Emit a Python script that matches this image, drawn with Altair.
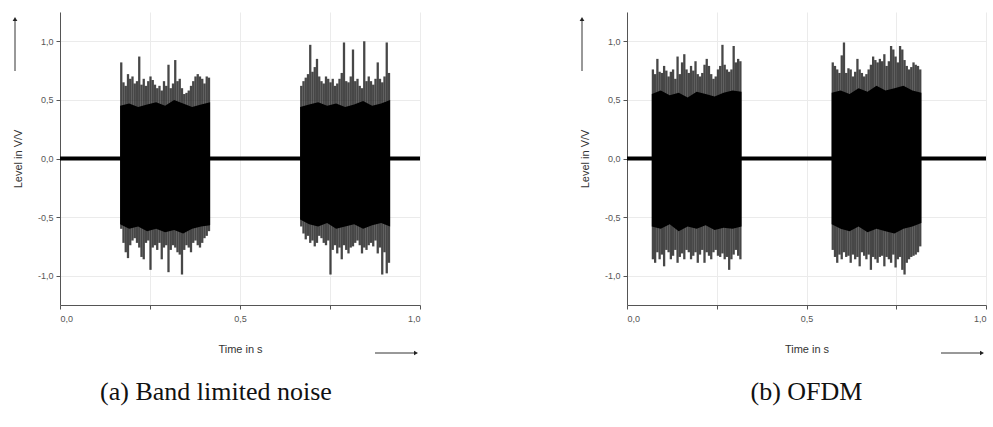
import altair as alt
import pandas as pd

# ---------------- data ----------------
T_BIN = 0.00625          # width of one envelope bin (s)
CORE_STEP = 0.025        # spacing of the dense-core outline points (s)
BASE_HALF = 0.018        # half thickness of the idle-noise baseline (V/V)

A_STARTS = [0.167, 0.667]   # burst start times, band limited noise
B_STARTS = [0.069, 0.570]   # burst start times, OFDM

A1_HI = [0.82, 0.65, 0.62, 0.72, 0.68, 0.70, 0.64, 0.66, 0.87, 0.63,
         0.68, 0.62, 0.66, 0.70, 0.67, 0.63, 0.60, 0.62, 0.58, 0.66,
         0.62, 0.80, 0.60, 0.64, 0.84, 0.66, 0.68, 0.60, 0.55, 0.56,
         0.58, 0.62, 0.66, 0.70, 0.72, 0.70, 0.68, 0.64, 0.70, 0.69]
A1_LO = [-0.60, -0.72, -0.80, -0.85, -0.74, -0.70, -0.68, -0.72, -0.76, -0.84,
         -0.86, -0.72, -0.70, -0.95, -0.76, -0.74, -0.78, -0.72, -0.86, -0.76,
         -0.74, -0.97, -0.78, -0.74, -0.76, -0.80, -0.82, -0.99, -0.78, -0.74,
         -0.76, -0.80, -0.72, -0.70, -0.74, -0.76, -0.72, -0.68, -0.66, -0.62]
A2_HI = [0.62, 0.66, 0.69, 0.72, 0.97, 0.74, 0.78, 0.85, 0.70, 0.66,
         0.64, 0.70, 0.68, 0.65, 0.68, 0.62, 0.64, 0.68, 0.73, 0.99,
         0.66, 0.65, 0.70, 0.93, 0.66, 0.68, 0.62, 0.60, 1.00, 0.66,
         0.70, 0.66, 0.63, 0.68, 0.82, 0.68, 0.65, 0.70, 0.99, 0.73]
A2_LO = [-0.58, -0.64, -0.69, -0.66, -0.72, -0.70, -0.75, -0.72, -0.66, -0.68,
         -0.72, -0.74, -0.70, -0.99, -0.78, -0.74, -0.81, -0.76, -0.86, -0.74,
         -0.78, -0.81, -0.76, -0.75, -0.72, -0.70, -0.74, -0.81, -0.76, -0.78,
         -0.74, -0.72, -0.75, -0.70, -0.81, -0.76, -0.99, -0.80, -0.98, -0.89]
B1_HI = [0.76, 0.72, 0.85, 0.74, 0.73, 0.79, 0.75, 0.70, 0.74, 0.76,
         0.68, 0.87, 0.72, 0.82, 0.89, 0.76, 0.73, 0.79, 0.75, 0.83,
         0.72, 0.70, 0.73, 0.80, 0.85, 0.79, 0.72, 0.68, 0.70, 0.76,
         0.79, 0.97, 0.80, 0.76, 0.74, 0.76, 0.96, 0.82, 0.85, 0.83]
B1_LO = [-0.86, -0.89, -0.80, -0.86, -0.82, -0.92, -0.78, -0.80, -0.86, -0.83,
         -0.78, -0.89, -0.84, -0.81, -0.86, -0.78, -0.80, -0.86, -0.83, -0.80,
         -0.89, -0.82, -0.78, -0.89, -0.80, -0.83, -0.86, -0.80, -0.78, -0.83,
         -0.84, -0.81, -0.86, -0.84, -0.95, -0.86, -0.82, -0.78, -0.83, -0.86]
B2_HI = [0.82, 0.79, 0.76, 0.73, 0.88, 0.99, 0.73, 0.77, 0.76, 0.70,
         0.74, 0.85, 0.76, 0.73, 0.70, 0.72, 0.76, 0.80, 0.87, 0.84,
         0.82, 0.85, 0.83, 0.89, 0.79, 0.83, 0.96, 0.93, 0.87, 0.82,
         0.96, 0.93, 0.84, 0.79, 0.76, 0.78, 0.82, 0.80, 0.79, 0.76]
B2_LO = [-0.78, -0.84, -0.89, -0.82, -0.86, -0.80, -0.84, -0.83, -0.89, -0.82,
         -0.86, -0.84, -0.92, -0.80, -0.83, -0.86, -0.82, -0.95, -0.84, -0.86,
         -0.89, -0.84, -0.83, -0.92, -0.84, -0.86, -0.89, -0.82, -0.93, -0.86,
         -0.84, -0.95, -0.99, -0.89, -0.86, -0.84, -0.83, -0.82, -0.80, -0.75]

A1_CORE_TOP = [0.45, 0.47, 0.44, 0.46, 0.48, 0.45, 0.50, 0.47, 0.44, 0.46, 0.48]
A1_CORE_BOT = [-0.56, -0.60, -0.58, -0.62, -0.60, -0.63, -0.61, -0.64, -0.60, -0.58, -0.57]
A2_CORE_TOP = [0.44, 0.46, 0.48, 0.45, 0.47, 0.44, 0.46, 0.49, 0.45, 0.47, 0.50]
A2_CORE_BOT = [-0.52, -0.56, -0.58, -0.55, -0.60, -0.58, -0.56, -0.60, -0.57, -0.55, -0.58]
B1_CORE_TOP = [0.55, 0.58, 0.54, 0.56, 0.52, 0.57, 0.55, 0.53, 0.56, 0.58, 0.57]
B1_CORE_BOT = [-0.58, -0.60, -0.56, -0.62, -0.58, -0.60, -0.57, -0.61, -0.59, -0.60, -0.58]
B2_CORE_TOP = [0.56, 0.58, 0.55, 0.60, 0.57, 0.62, 0.58, 0.60, 0.62, 0.58, 0.56]
B2_CORE_BOT = [-0.56, -0.60, -0.62, -0.58, -0.63, -0.60, -0.62, -0.64, -0.60, -0.58, -0.55]

X_TICKS = [0, 0.25, 0.5, 0.75, 1.0]
Y_TICKS = [-1.0, -0.75, -0.5, -0.25, 0, 0.25, 0.5, 0.75, 1.0]
CAPTIONS = ["(a) Band limited noise", "(b) OFDM"]

# ---------------- helpers ----------------
LABEL_EXPR = ("abs(datum.value*2 - round(datum.value*2)) < 0.001 ? "
              "(datum.value < 0 ? '-' : '') + replace(format(abs(datum.value), '.1f'), '.', ',') : ''")

def envelope(starts, his, los):
    rows = []
    for k, (s, hi, lo) in enumerate(zip(starts, his, los)):
        for i, (h, l) in enumerate(zip(hi, lo)):
            rows.append({"burst": k, "t": s + (i + 0.5) * T_BIN, "hi": h, "lo": l})
    return pd.DataFrame(rows)

def core(starts, tops, bots):
    rows = []
    for k, (s, tp, bt) in enumerate(zip(starts, tops, bots)):
        for j, (a, b) in enumerate(zip(tp, bt)):
            rows.append({"burst": k, "t": s + j * CORE_STEP, "top": a, "bot": b})
    return pd.DataFrame(rows)

def panel(starts, his, los, tops, bots, caption, width, cap_dx):
    xs = alt.Scale(domain=[0, 1], nice=False)
    ys = alt.Scale(domain=[-1.25, 1.25], nice=False)
    xax = alt.Axis(values=X_TICKS, labelExpr=LABEL_EXPR, grid=True, gridColor="#ebebeb",
                   domainColor="#555", tickColor="#555", tickSize=4, labelFontSize=9,
                   labelColor="#555", labelFont="Liberation Sans", labelPadding=5,
                   title="Time in s", titleFont="Liberation Sans", titleFontSize=11,
                   titleFontWeight="normal", titleColor="#333", titlePadding=20)
    yax = alt.Axis(values=Y_TICKS, labelExpr=LABEL_EXPR, grid=True, gridColor="#ebebeb",
                   domainColor="#555", tickColor="#555", tickSize=4, labelFontSize=9,
                   labelColor="#555", labelFont="Liberation Sans", labelPadding=3,
                   title="Level in V/V", titleFont="Liberation Sans", titleFontSize=11,
                   titleFontWeight="normal", titleColor="#333", titlePadding=14)

    base_df = pd.DataFrame({"x0": [0.0], "x1": [1.0], "y0": [-BASE_HALF], "y1": [BASE_HALF]})
    baseline = alt.Chart(base_df).mark_rect(color="black").encode(
        x=alt.X("x0:Q", scale=xs, axis=xax), x2="x1:Q",
        y=alt.Y("y0:Q", scale=ys, axis=yax), y2="y1:Q")

    env = alt.Chart(envelope(starts, his, los)).mark_rule(
        color="black", strokeWidth=2.3, opacity=0.72).encode(
        x=alt.X("t:Q", scale=xs), y=alt.Y("lo:Q", scale=ys), y2="hi:Q")

    dense = alt.Chart(core(starts, tops, bots)).mark_area(color="black", opacity=1).encode(
        x=alt.X("t:Q", scale=xs), y=alt.Y("bot:Q", scale=ys), y2="top:Q", detail="burst:N")

    # arrows next to the axis titles
    arr_df = pd.DataFrame({"k": [0]})
    y_line = alt.Chart(arr_df).mark_rule(color="#333", strokeWidth=1).encode(
        x=alt.value(-45), y=alt.value(8), y2=alt.value(59))
    y_head = alt.Chart(arr_df).mark_point(shape="triangle-up", filled=True, color="#222",
                                          size=22, opacity=1).encode(
        x=alt.value(-45), y=alt.value(7))
    x_line = alt.Chart(arr_df).mark_rule(color="#333", strokeWidth=1).encode(
        x=alt.value(width - 45), x2=alt.value(width - 5), y=alt.value(341))
    x_head = alt.Chart(arr_df).mark_point(shape="triangle-right", filled=True, color="#222",
                                          size=22, opacity=1).encode(
        x=alt.value(width - 4), y=alt.value(341))

    return alt.layer(baseline, env, dense, y_line, y_head, x_line, x_head).properties(
        width=width, height=293,
        title=alt.TitleParams(caption, orient="bottom", font="Liberation Serif", fontSize=26,
                              fontWeight="normal", color="#111", offset=24, dx=cap_dx))

pa = panel(A_STARTS, [A1_HI, A2_HI], [A1_LO, A2_LO], [A1_CORE_TOP, A2_CORE_TOP],
           [A1_CORE_BOT, A2_CORE_BOT], CAPTIONS[0], 360, -24)
pb = panel(B_STARTS, [B1_HI, B2_HI], [B1_LO, B2_LO], [B1_CORE_TOP, B2_CORE_TOP],
           [B1_CORE_BOT, B2_CORE_BOT], CAPTIONS[1], 359, 0)

chart = alt.hconcat(pa, pb, spacing=158).configure(
    padding={"left": 12, "top": 12, "right": 0, "bottom": 0}, background="white"
).configure_view(stroke=None)

chart.save("out.html", embed_options={"renderer": "svg", "actions": False})
